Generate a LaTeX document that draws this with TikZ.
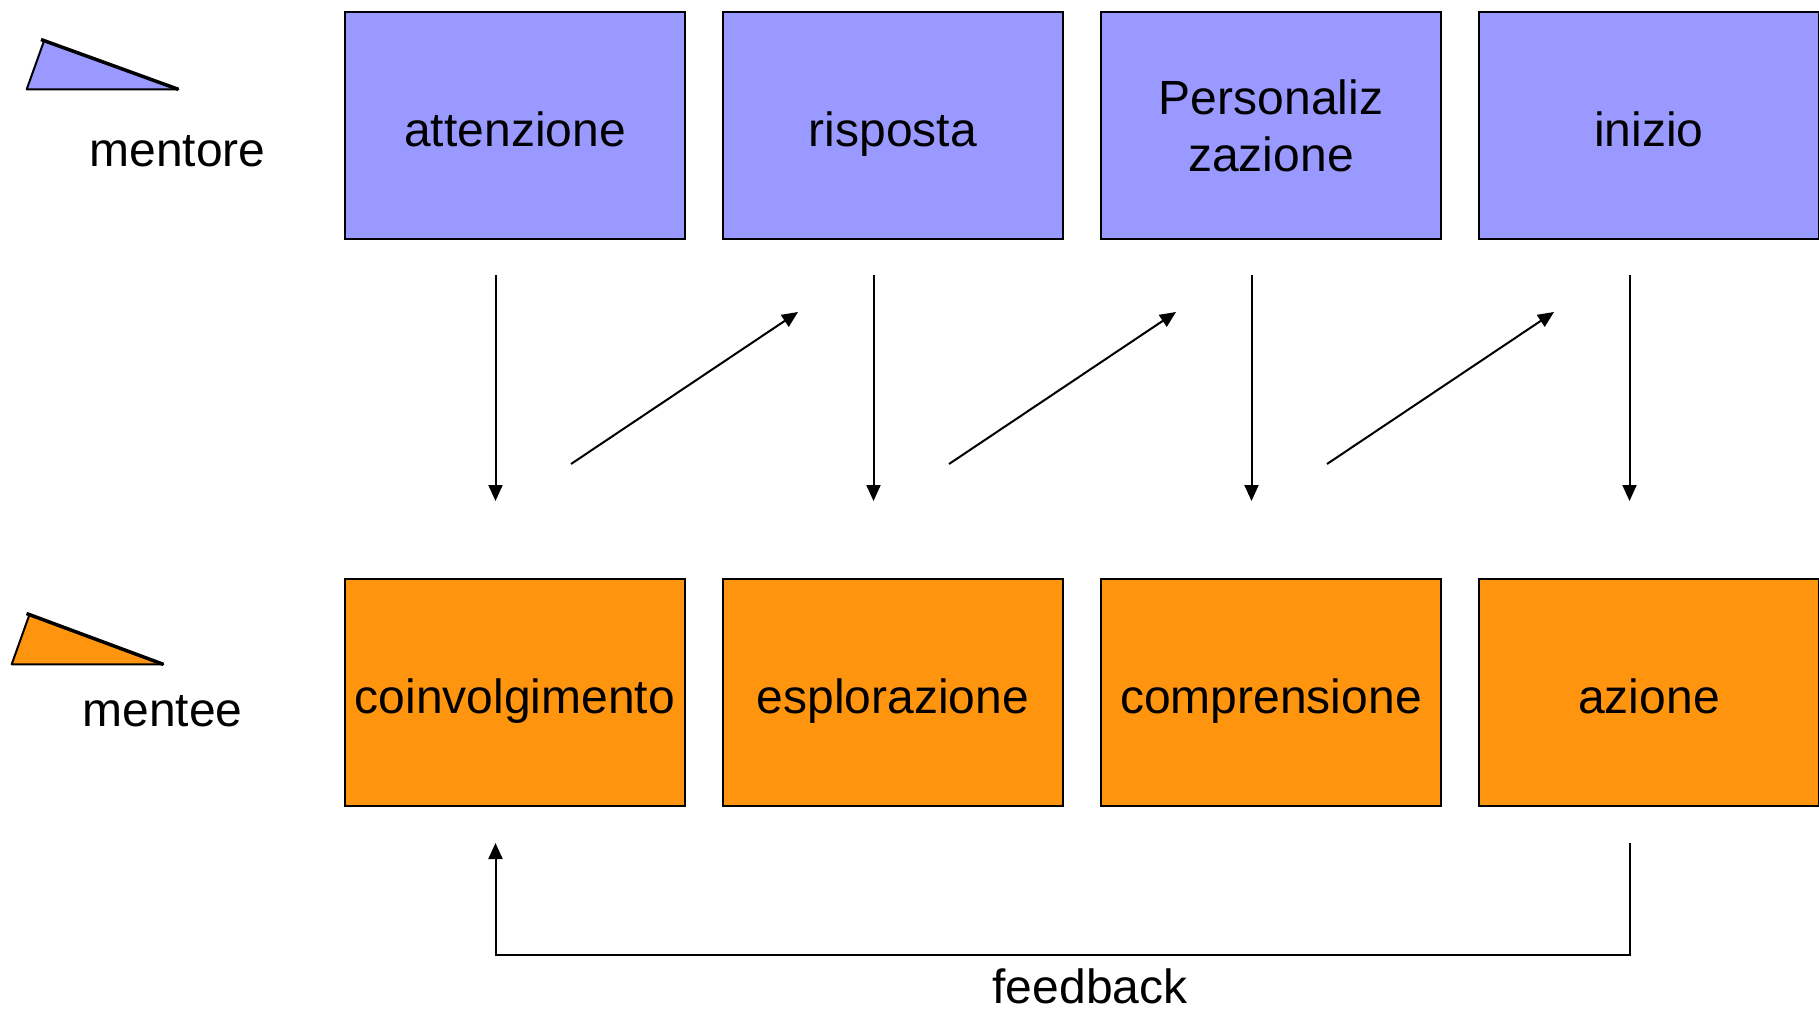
\documentclass[tikz,border=0pt]{standalone}
\usepackage{fontspec}
\setmainfont{Liberation Sans}
\usetikzlibrary{arrows.meta}
\definecolor{mblue}{HTML}{9999FF}
\definecolor{morange}{HTML}{FF950E}
\begin{document}
\begin{tikzpicture}[x=1pt,y=-1pt,
  box/.style={draw=black,line width=2pt,minimum width=340pt,minimum height=227pt,anchor=north west,inner sep=0pt,align=center,font=\fontsize{48}{57}\selectfont},
  oneline/.style={text height=52pt,text depth=10pt},
  topbox/.style={box,fill=mblue},
  botbox/.style={box,fill=morange,oneline},
  lbl/.style={inner sep=0pt,font=\fontsize{48}{57}\selectfont},
  arr/.style={line width=2pt,-{Triangle[length=16pt,width=14pt]}}]
\useasboundingbox (0,0) rectangle (1819,1011);
% triangles
\filldraw[fill=mblue,draw=black,line width=2pt,line join=round] (26.7,89.3) -- (178.3,89.3) -- (44,41) -- cycle;
\draw[line width=3.5pt] (41,39.5) -- (178.3,89.3);
\filldraw[fill=morange,draw=black,line width=2pt,line join=round] (11.7,664.3) -- (163.3,664.3) -- (29.3,615) -- cycle;
\draw[line width=3.5pt] (26.5,613.5) -- (163.3,664.3);
\node[lbl] (mentore) at (177.5,151) {mentore};
\node[lbl] (mentee) at (162.5,711) {mentee};
% boxes
\node[topbox,oneline] (t1) at (344,11) {attenzione};
\node[topbox,oneline] (t2) at (722,11) {risposta};
\node[topbox] (t3) at (1100,11) {Personaliz\\zazione};
\node[topbox,oneline] (t4) at (1478,11) {inizio};
\node[botbox] (b1) at (344,577.7) {coinvolgimento};
\node[botbox] (b2) at (722,577.7) {esplorazione};
\node[botbox] (b3) at (1100,577.7) {comprensione};
\node[botbox] (b4) at (1478,577.7) {azione};
% vertical arrows
\foreach \i/\x in {1/495.5,2/873.5,3/1251.5,4/1629.5}{
  \coordinate (v\i s) at (\x,275);
  \coordinate (v\i e) at (\x,501);
  \draw[arr] (v\i s) -- (v\i e);
}
% diagonal arrows
\foreach \i/\x in {1/571,2/949,3/1327}{
  \coordinate (d\i s) at (\x,464);
  \coordinate (d\i e) at (\x+227,312);
  \draw[arr] (d\i s) -- (d\i e);
}
% feedback
\coordinate (fbs) at (1629.5,843);
\coordinate (fbe) at (495.5,843);
\draw[arr] (fbs) -- (1629.5,955) -- (495.5,955) -- (fbe);
\node[lbl] (feedback) at (1090,986) {feedback};
\end{tikzpicture}
\end{document}
